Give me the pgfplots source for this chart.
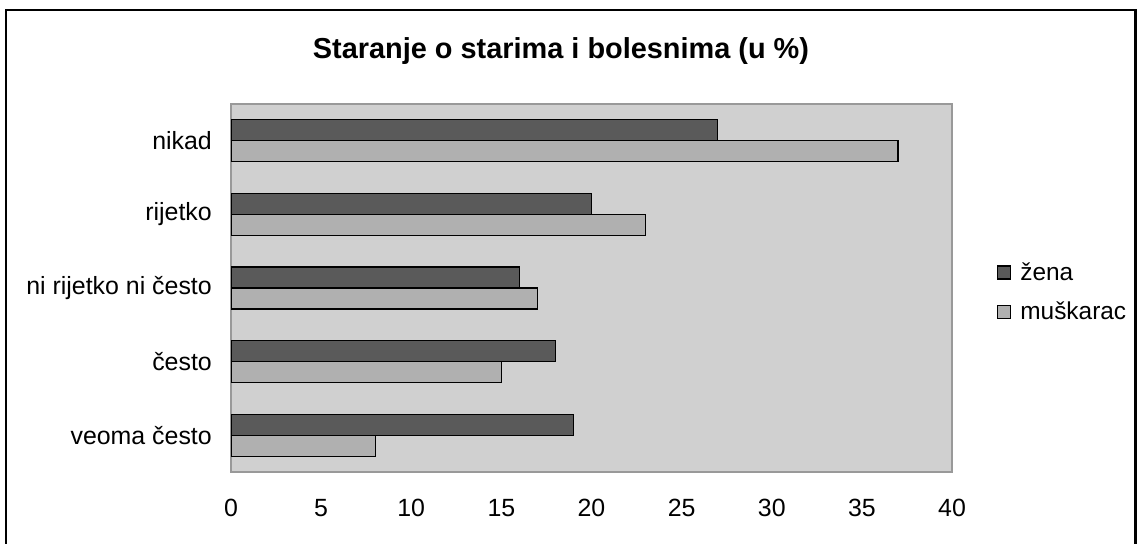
\documentclass[border=0pt]{standalone}
\usepackage{fontspec}
\setmainfont{Liberation Sans}
\usepackage{pgfplots}
\pgfplotsset{compat=1.18}
\definecolor{zena}{HTML}{5A5A5A}
\definecolor{musk}{HTML}{B0B0B0}
\definecolor{plotbg}{HTML}{D0D0D0}
\definecolor{frameg}{HTML}{999999}
\begin{document}
\begin{tikzpicture}
\useasboundingbox (0,0) rectangle (1137bp,-544bp);
\draw[line width=2.5bp] (6bp,-544bp) -- (6bp,-10bp) -- (1135.5bp,-10bp) -- (1135.5bp,-544bp);
\node[font=\bfseries\fontsize{29}{34}\selectfont, anchor=base] at (561bp,-58bp) {Staranje o starima i bolesnima (u \%)};
\begin{axis}[
  at={(231bp,-472bp)}, anchor=south west,
  scale only axis, width=721bp, height=368bp,
  xbar, bar width=21bp,
  xmin=0, xmax=40, ymin=-0.5, ymax=4.5,
  xtick={0,5,...,40},
  ytick={0,1,2,3,4},
  yticklabels={veoma često, često, ni rijetko ni često, rijetko, nikad},
  major tick length=0pt,
  axis background/.style={fill=plotbg},
  axis line style={draw=frameg, line width=1.5bp},
  tick label style={font=\fontsize{25}{30}\selectfont},
  yticklabel style={inner sep=0pt, xshift=-19bp},
  xticklabel style={inner sep=0pt, yshift=-27bp, anchor=north},
  /pgf/number format/assume math mode=true,
  legend style={draw=none, fill=none, inner sep=0pt, at={(1.0624,0.489)}, anchor=west, font=\fontsize{24.5}{29}\selectfont, row sep=16bp, column sep=7bp},
  legend image code/.code={\draw[#1, line width=1.2bp] (0bp,-6.5bp) rectangle (13bp,6.5bp);},
  legend cell align=left,
]
\addplot[fill=zena, draw=black, line width=1.3bp, bar shift=10.5bp] coordinates {(19,0) (18,1) (16,2) (20,3) (27,4)};
\addplot[fill=musk, draw=black, line width=1.3bp, bar shift=-10.5bp] coordinates {(8,0) (15,1) (17,2) (23,3) (37,4)};
\legend{žena, muškarac}
\end{axis}
\end{tikzpicture}
\end{document}
